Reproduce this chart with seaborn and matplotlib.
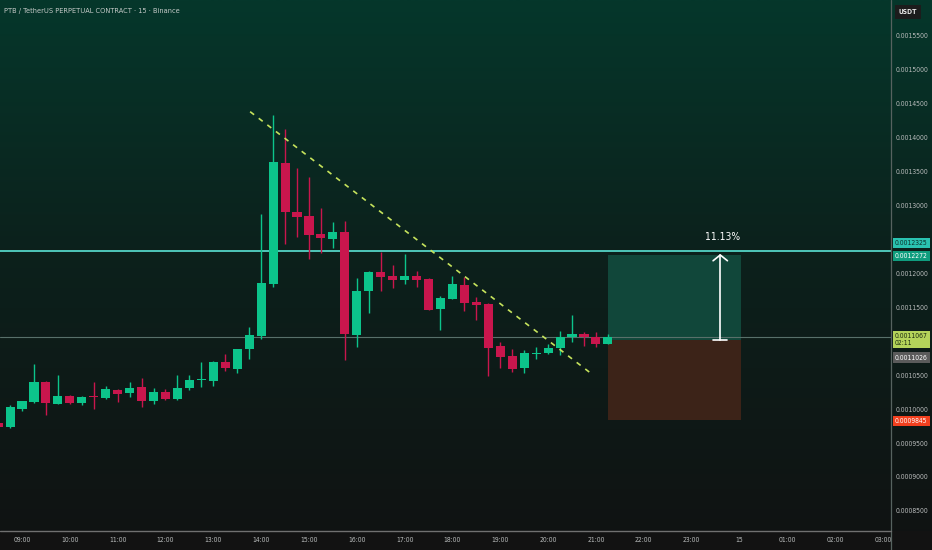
import numpy as np
import matplotlib
matplotlib.use("Agg")
import matplotlib.pyplot as plt
import seaborn as sns
from matplotlib.lines import Line2D
from matplotlib.patches import Rectangle
from matplotlib.transforms import blended_transform_factory

# ---- 15-minute candles, first bar opens at 08:30 ----
first_bar_hour = 8.5
bar_step = 0.25
opens = [0.0009797, 0.0009738, 0.0010008, 0.0010106, 0.0010401, 0.0010077, 0.0010199, 0.0010087,
         0.0010187, 0.0010161, 0.0010287, 0.0010243, 0.0010327, 0.0010117, 0.0010249, 0.0010146,
         0.0010312, 0.0010426, 0.0010416, 0.0010700, 0.0010592, 0.0010880, 0.0011079, 0.0011845,
         0.0013632, 0.0012902, 0.0012843, 0.0012586, 0.0012513, 0.0012611, 0.0011093, 0.0011737,
         0.0012017, 0.0011958, 0.0011904, 0.0011967, 0.0011919, 0.0011481, 0.0011624, 0.0011830,
         0.0011580, 0.0011550, 0.0010927, 0.0010784, 0.0010607, 0.0010816, 0.0010824, 0.0010898,
         0.0011060, 0.0011113, 0.0011060, 0.0010965]
highs = [0.0009811, 0.0010062, 0.0010126, 0.0010666, 0.0010416, 0.0010508, 0.0010205, 0.0010195,
         0.0010405, 0.0010342, 0.0010293, 0.0010405, 0.0010455, 0.0010312, 0.0010293, 0.0010508,
         0.0010508, 0.0010696, 0.0010703, 0.0010813, 0.0010887, 0.0011216, 0.0012876, 0.0014340,
         0.0014133, 0.0013550, 0.0013417, 0.0012969, 0.0012763, 0.0012778, 0.0011929, 0.0012029,
         0.0012312, 0.0012129, 0.0012283, 0.0012041, 0.0011926, 0.0011668, 0.0011963, 0.0011944,
         0.0011658, 0.0011565, 0.0010995, 0.0010892, 0.0010872, 0.0010921, 0.0010961, 0.0011157,
         0.0011388, 0.0011133, 0.0011133, 0.0011108]
lows = [0.0009723, 0.0009723, 0.0009978, 0.0010096, 0.0009910, 0.0010069, 0.0010077, 0.0010058,
        0.0010008, 0.0010146, 0.0010106, 0.0010184, 0.0010028, 0.0010081, 0.0010136, 0.0010136,
        0.0010283, 0.0010332, 0.0010342, 0.0010559, 0.0010538, 0.0010744, 0.0011039, 0.0011796,
        0.0012434, 0.0012533, 0.0012209, 0.0012297, 0.0012371, 0.0010725, 0.0010912, 0.0011413,
        0.0011746, 0.0011790, 0.0011845, 0.0011805, 0.0011455, 0.0011167, 0.0011617, 0.0011443,
        0.0011314, 0.0010494, 0.0010612, 0.0010553, 0.0010529, 0.0010744, 0.0010813, 0.0010799,
        0.0010986, 0.0010931, 0.0010921, 0.0010954]
closes = [0.0009738, 0.0010032, 0.0010117, 0.0010401, 0.0010087, 0.0010199, 0.0010096, 0.0010175,
          0.0010172, 0.0010293, 0.0010228, 0.0010317, 0.0010117, 0.0010249, 0.0010146, 0.0010317,
          0.0010426, 0.0010435, 0.0010691, 0.0010607, 0.0010883, 0.0011089, 0.0011864, 0.0013643,
          0.0012906, 0.0012828, 0.0012567, 0.0012527, 0.0012611, 0.0011108, 0.0011746, 0.0012017,
          0.0011948, 0.0011904, 0.0011967, 0.0011904, 0.0011466, 0.0011639, 0.0011841, 0.0011569,
          0.0011531, 0.0010906, 0.0010765, 0.0010597, 0.0010824, 0.0010824, 0.0010906, 0.0011068,
          0.0011108, 0.0011060, 0.0010965, 0.0011067]

# ---- drawings ----
resistance = 0.0012325
last_price = 0.0011067
entry_price = 0.0011026
target_price = 0.0012272
stop_price = 0.0009845
position_start, position_end = 21.25, 24.03
arrow_hour = 23.6
gain_label = "11.13%"
trend_hours = [13.77, 20.94]
trend_prices = [0.0014384, 0.0010504]

# ---- axes ----
tick_hours = list(range(9, 28))
tick_labels = ["09:00", "10:00", "11:00", "12:00", "13:00", "14:00", "15:00", "16:00",
               "17:00", "18:00", "19:00", "20:00", "21:00", "22:00", "23:00", "15",
               "01:00", "02:00", "03:00"]
price_ticks = [0.00085, 0.00090, 0.00095, 0.00100, 0.00105, 0.00110, 0.00115, 0.00120,
               0.00125, 0.00130, 0.00135, 0.00140, 0.00145, 0.00150, 0.00155]
# scale labels that sit under a price tag are not printed
covered_ticks = [0.00110, 0.00125]
title = "PTB / TetherUS PERPETUAL CONTRACT · 15 · Binance"

UP, DOWN = "#0cc48b", "#c9164d"
FONT = ["Liberation Sans Narrow", "DejaVu Sans"]
SCALE_FS = 4.9

sns.set_theme(style="dark")
plt.rcParams["font.family"] = FONT
plt.rcParams["font.stretch"] = "condensed"

W, H = 932, 550
fig = plt.figure(figsize=(W / 100, H / 100), dpi=100)

# background gradient (dark teal fading to near black)
bg = fig.add_axes([0, 0, 1, 1], zorder=-5)
t = np.linspace(0, 1, 400)
stops = [0.0, 0.45, 1.0]
top, mid, bot = (5, 55, 43), (12, 33, 28), (16, 18, 18)
grad = np.stack([np.interp(t, stops, [top[i], mid[i], bot[i]]) for i in range(3)], axis=-1) / 255
bg.imshow(grad[:, None, :], aspect="auto", extent=[0, 1, 0, 1], interpolation="bilinear")
bg.add_patch(Rectangle((0, 0), 1, 19 / H, color="#121212", zorder=3))
bg.set_xlim(0, 1)
bg.set_ylim(0, 1)
bg.axis("off")

ax = fig.add_axes([0, 19 / H, 891 / W, 531 / H])
ax.set_facecolor("none")
for s in ax.spines.values():
    s.set_visible(False)
ax.grid(False)

n = len(opens)
hours = first_bar_hour + bar_step * np.arange(n)
o, h, l, c = map(np.asarray, (opens, highs, lows, closes))
up = c >= o
colors = np.where(up, UP, DOWN)
min_body = 1.6e-6
body_bottom = np.minimum(o, c)
body_height = np.maximum(np.abs(c - o), min_body)

ax.vlines(hours, l, h, colors=colors, linewidth=1.0, zorder=3)
ax.bar(hours, body_height, bottom=body_bottom, width=0.19, color=colors,
       linewidth=0, zorder=4)

# horizontal levels
ax.axhline(resistance, color="#4fc7ba", linewidth=1.4, zorder=2)
ax.axhline(last_price, color="#58706a", linewidth=0.8, zorder=2)

# long position box
ax.add_patch(Rectangle((position_start, entry_price), position_end - position_start,
                       target_price - entry_price, color="#11473a", linewidth=0, zorder=1))
ax.add_patch(Rectangle((position_start, stop_price), position_end - position_start,
                       entry_price - stop_price, color="#3c2318", linewidth=0, zorder=1))

# measuring arrow
aw, ah = 0.15, 0.0000085
ax.plot([arrow_hour, arrow_hour], [entry_price, target_price], color="white", lw=1.2, zorder=6)
ax.plot([arrow_hour - aw, arrow_hour + aw], [entry_price, entry_price], color="white", lw=1.2, zorder=6)
ax.plot([arrow_hour - aw, arrow_hour, arrow_hour + aw],
        [target_price - ah, target_price, target_price - ah], color="white", lw=1.2, zorder=6)
ax.annotate(gain_label, xy=(arrow_hour, target_price), xytext=(2, 18), textcoords="offset pixels",
            ha="center", va="center", color="white", fontsize=7.4, zorder=7)

# descending trend line
sns.lineplot(x=trend_hours, y=trend_prices, ax=ax, color="#c6e35c", linewidth=1.2,
             linestyle=(0, (3, 3.5)), zorder=5)

ax.set_xlim(8.54, 27.17)
ax.set_ylim(0.0008204, 0.0016030)
ax.set_xlabel("")
ax.set_ylabel("")

ax.set_xticks(tick_hours)
ax.set_xticklabels(tick_labels)
ax.yaxis.tick_right()
ax.set_yticks(price_ticks)
ax.set_yticklabels(["" if any(abs(p - q) < 1e-9 for q in covered_ticks) else f"{p:.7f}"
                    for p in price_ticks])
ax.tick_params(axis="x", length=0, pad=4, labelsize=SCALE_FS, labelcolor="#b9bcbc")
ax.tick_params(axis="y", length=0, pad=3, labelsize=SCALE_FS, labelcolor="#b9bcbc")

# price tags on the scale
tag_tr = blended_transform_factory(ax.transAxes, ax.transData)


def tag(price, text, bg_color, fg, dy=0, va="center"):
    ax.annotate(text, xy=(1, price), xycoords=tag_tr, xytext=(4, dy), textcoords="offset pixels",
                ha="left", va=va, fontsize=SCALE_FS, color=fg, zorder=20, annotation_clip=False,
                bbox=dict(boxstyle="square,pad=0.3", fc=bg_color, ec="none"))


tag(resistance, f"{resistance:.7f}", "#2ac2b0", "#0b2f2a", dy=8)
tag(target_price, f"{target_price:.7f}", "#0f9d7e", "white", dy=-1)
tag(last_price, f"{last_price:.7f}\n02:11", "#b4d35a", "#1b2a10", dy=4, va="top")
tag(entry_price, f"{entry_price:.7f}", "#5b5b5b", "white", dy=-18)
tag(stop_price, f"{stop_price:.7f}", "#f2401f", "white", dy=-1)

# frame lines of the scales
fig.add_artist(Line2D([891 / W, 891 / W], [0, 1], transform=fig.transFigure,
                      color="#56625f", linewidth=0.9))
fig.add_artist(Line2D([0, 891 / W], [19 / H, 19 / H], transform=fig.transFigure,
                      color="#707070", linewidth=1.0))

fig.text(908 / W, 1 - 12 / H, "USDT", ha="center", va="center", fontsize=SCALE_FS, color="#e6e6e6",
         fontweight="bold",
         bbox=dict(boxstyle="square,pad=0.6", fc="#1c1c1c", ec="none"))
fig.text(4 / W, 1 - 11 / H, title, ha="left", va="center", fontsize=5.3, color="#c5cac8")

fig.savefig("out.png", dpi=100)
